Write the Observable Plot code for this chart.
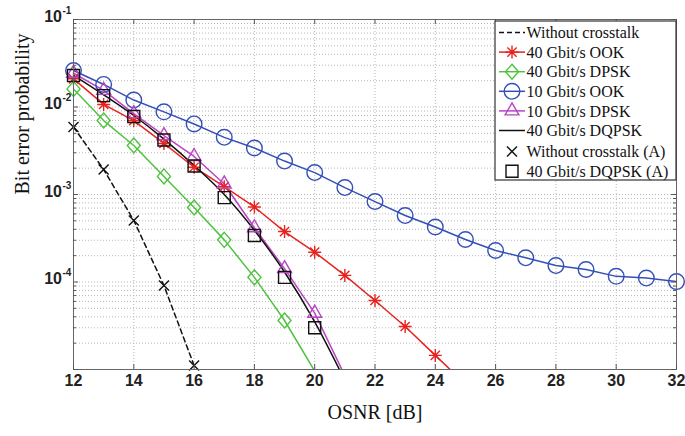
<!DOCTYPE html>
<html><head><meta charset="utf-8">
<script src="https://cdn.jsdelivr.net/npm/d3@7"></script>
<script src="https://cdn.jsdelivr.net/npm/@observablehq/plot@0.6"></script>
<style>body{margin:0;background:#fff}#chart{width:685px;height:436px}</style>
</head><body><div id="chart"></div>
<script>
// ---- data ----
const xTicks = [12, 14, 16, 18, 20, 22, 24, 26, 28, 30, 32];
const yDecades = [1e-5, 1e-4, 1e-3, 1e-2, 1e-1];
const yLabeled = [1e-4, 1e-3, 1e-2, 1e-1];
const yMinor = [2e-5,3e-5,4e-5,5e-5,6e-5,7e-5,8e-5,9e-5, 2e-4,3e-4,4e-4,5e-4,6e-4,7e-4,8e-4,9e-4,
                2e-3,3e-3,4e-3,5e-3,6e-3,7e-3,8e-3,9e-3, 2e-2,3e-2,4e-2,5e-2,6e-2,7e-2,8e-2,9e-2];

const xNoXtalk = [12, 13, 14, 15, 16];
const berNoXtalk = [5.9e-3, 1.93e-3, 5.05e-4, 9.1e-5, 1.11e-5];      // dashed line
const berNoXtalkA = [5.9e-3, 1.93e-3, 5.05e-4, 9.1e-5, 1.11e-5];     // x markers (A)

const x40OOK = [12, 13, 14, 15, 16, 17, 18, 19, 20, 21, 22, 23, 24, 25];
const ber40OOK = [2.1e-2, 1.07e-2, 7.0e-3, 3.83e-3, 2.05e-3, 1.23e-3, 7.2e-4, 3.77e-4, 2.19e-4, 1.19e-4, 6.15e-5, 3.1e-5, 1.45e-5, 6.8e-6];

const x40DPSK = [12, 13, 14, 15, 16, 17, 18, 19, 20];
const ber40DPSK = [1.61e-2, 7.0e-3, 3.63e-3, 1.61e-3, 7.1e-4, 3.03e-4, 1.13e-4, 3.63e-5, 9.6e-6];

const x10OOK = [12, 13, 14, 15, 16, 17, 18, 19, 20, 21, 22, 23, 24, 25, 26, 27, 28, 29, 30, 31, 32];
const ber10OOK = [2.61e-2, 1.81e-2, 1.2e-2, 8.8e-3, 6.4e-3, 4.5e-3, 3.4e-3, 2.41e-3, 1.78e-3, 1.2e-3, 8.3e-4,
                  5.75e-4, 4.25e-4, 3.06e-4, 2.29e-4, 1.89e-4, 1.54e-4, 1.39e-4, 1.16e-4, 1.11e-4, 1.01e-4];

const x10DPSK = [12, 13, 14, 15, 16, 17, 18, 19, 20, 21];
const ber10DPSK = [2.43e-2, 1.55e-2, 8.4e-3, 4.7e-3, 2.72e-3, 1.32e-3, 4.17e-4, 1.42e-4, 4.4e-5, 8.5e-6];

const x40DQPSK = [12, 13, 14, 15, 16, 17, 18, 19, 20, 21];
const ber40DQPSK = [2.3e-2, 1.38e-2, 8.0e-3, 4.3e-3, 2.15e-3, 1.0e-3, 3.9e-4, 1.3e-4, 3.5e-5, 7.5e-6];   // solid line

const x40DQPSKA = [12, 13, 14, 15, 16, 17, 18, 19, 20];
const ber40DQPSKA = [2.29e-2, 1.35e-2, 7.8e-3, 4.2e-3, 2.12e-3, 9.2e-4, 3.4e-4, 1.13e-4, 3.0e-5]; // squares (A)

const legendLabels = ["Without crosstalk", "40 Gbit/s OOK", "40 Gbit/s DPSK", "10 Gbit/s OOK",
  "10 Gbit/s DPSK", "40 Gbit/s DQPSK", "Without crosstalk (A)", "40 Gbit/s DQPSK (A)"];

// ---- symbols (Matlab-like) ----
const R = s => Math.sqrt(s / Math.PI);
const sym = {
  star: {draw(c, s) { const r = R(s), d = r * Math.SQRT1_2; c.moveTo(-r, 0); c.lineTo(r, 0); c.moveTo(0, -r); c.lineTo(0, r); c.moveTo(-d, -d); c.lineTo(d, d); c.moveTo(-d, d); c.lineTo(d, -d); }},
  diamond: {draw(c, s) { const r = R(s), w = r * 0.87; c.moveTo(0, -r); c.lineTo(w, 0); c.lineTo(0, r); c.lineTo(-w, 0); c.closePath(); }},
  circle: {draw(c, s) { const r = R(s); c.moveTo(r, 0); c.arc(0, 0, r, 0, 2 * Math.PI); c.closePath(); }},
  triangle: {draw(c, s) { const r = R(s); c.moveTo(0, -r); c.lineTo(r * 0.866, r * 0.5); c.lineTo(-r * 0.866, r * 0.5); c.closePath(); }},
  square: {draw(c, s) { const r = R(s); c.rect(-r, -r, 2 * r, 2 * r); }},
  times: {draw(c, s) { const r = R(s); c.moveTo(-r, -r); c.lineTo(r, r); c.moveTo(-r, r); c.lineTo(r, -r); }}
};

const C = {red: "#e8221e", green: "#4fc23f", blue: "#3350b8", magenta: "#b845c2", black: "#111"};

const series = [
  {label: legendLabels[0], xs: xNoXtalk, ys: berNoXtalk, color: C.black, line: "dash", symbol: null},
  {label: legendLabels[1], xs: x40OOK, ys: ber40OOK, color: C.red, line: "solid", symbol: "star", r: 6.5},
  {label: legendLabels[2], xs: x40DPSK, ys: ber40DPSK, color: C.green, line: "solid", symbol: "diamond", r: 7.5},
  {label: legendLabels[3], xs: x10OOK, ys: ber10OOK, color: C.blue, line: "solid", symbol: "circle", r: 7.8},
  {label: legendLabels[4], xs: x10DPSK, ys: ber10DPSK, color: C.magenta, line: "solid", symbol: "triangle", r: 8},
  {label: legendLabels[5], xs: x40DQPSK, ys: ber40DQPSK, color: C.black, line: "solid", symbol: null, curve: "monotone-x"},
  {label: legendLabels[6], xs: xNoXtalk, ys: berNoXtalkA, color: C.black, line: null, symbol: "times", r: 5},
  {label: legendLabels[7], xs: x40DQPSKA, ys: ber40DQPSKA, color: C.black, line: null, symbol: "square", r: 6}
];
const rows = s => s.xs.map((x, i) => ({x, y: s.ys[i]}));

const W = 685, H = 436, mT = 19, mR = 9, mB = 67, mL = 73;
const fw = W - mL - mR, fh = H - mT - mB;
const grid = {stroke: "#b8b8b8", strokeDasharray: "1,2", strokeWidth: 1};
const tickCol = "#555";
const sans = "Liberation Sans, Arial, sans-serif", serif = "Liberation Serif, Times New Roman, serif";

// legend geometry (pixels, relative to the plot frame's top-left corner)
const lg = {x: 422, y: 2, w: 181, h: 159, rowY0: 11.5, rowDy: 19.6};
const rowY = i => lg.y + lg.rowY0 + i * lg.rowDy + (i >= 6 ? 1.5 : 0);

const marks = [
  Plot.ruleY(yMinor, {y: d => d, ...grid}),
  Plot.ruleY(yDecades, {y: d => d, ...grid}),
  Plot.ruleX(xTicks, {x: d => d, ...grid})
];
for (const s of series) {
  if (s.line) marks.push(Plot.line(rows(s), {x: "x", y: "y", stroke: s.color, strokeWidth: 1.5,
    strokeDasharray: s.line === "dash" ? "5,3.5" : null, curve: s.curve || "linear", clip: true}));
}
for (const s of series) {
  if (s.symbol) marks.push(Plot.dot(rows(s).filter(d => d.y >= 1e-5), {x: "x", y: "y", symbol: sym[s.symbol], r: s.r,
    stroke: s.color, fill: "none", strokeWidth: 1.4}));
}
marks.push(
  Plot.frame({stroke: "#666", strokeWidth: 1}),
  Plot.tickX(xTicks, {x: d => d, stroke: tickCol, insetTop: fh - 5}),
  Plot.tickX(xTicks, {x: d => d, stroke: tickCol, insetBottom: fh - 5}),
  Plot.tickY(yDecades, {y: d => d, stroke: tickCol, insetRight: fw - 5}),
  Plot.tickY(yDecades, {y: d => d, stroke: tickCol, insetLeft: fw - 5}),
  Plot.tickY(yMinor, {y: d => d, stroke: tickCol, insetRight: fw - 3}),
  Plot.tickY(yMinor, {y: d => d, stroke: tickCol, insetLeft: fw - 3}),
  Plot.text(xTicks, {x: d => d, frameAnchor: "bottom", text: d => String(d), dy: 16.5,
    fontFamily: sans, fontWeight: "bold", fontSize: 16, fill: "#222"}),
  Plot.text(yLabeled, {y: d => d, frameAnchor: "left", text: () => "10", textAnchor: "end", dx: -11.5, dy: -3,
    fontFamily: sans, fontWeight: "bold", fontSize: 16, fill: "#222"}),
  Plot.text(yLabeled, {y: d => d, frameAnchor: "left", text: d => String(Math.round(Math.log10(d))), textAnchor: "start", dx: -11, dy: -9,
    fontFamily: sans, fontWeight: "bold", fontSize: 10, fill: "#222"}),
  Plot.text(["OSNR [dB]"], {frameAnchor: "bottom", dy: 49, text: d => d,
    fontFamily: serif, fontSize: 20, fill: "#111"}),
  Plot.text(["Bit error probability"], {frameAnchor: "left", rotate: -90, dx: -51, text: d => d,
    fontFamily: serif, fontSize: 20, fill: "#111"})
);

const chart = Plot.plot({
  width: W, height: H, marginTop: mT, marginRight: mR, marginBottom: mB, marginLeft: mL,
  x: {domain: [12, 32], axis: null},
  y: {type: "log", domain: [1e-5, 1e-1], axis: null},
  style: {background: "#fff"},
  marks
});

// ---- legend box and samples inside the axes (top-right) ----
const g = d3.select(chart).append("g").attr("transform", `translate(${mL + lg.x},${mT + lg.y})`);
g.append("rect").attr("width", lg.w).attr("height", lg.h).attr("fill", "#fff").attr("stroke", "#333").attr("stroke-width", 1.2);
series.forEach((s, i) => {
  const cy = rowY(i) - lg.y;
  if (s.line) g.append("line").attr("x1", 4).attr("x2", 30).attr("y1", cy).attr("y2", cy)
    .attr("stroke", s.color).attr("stroke-width", 1.5).attr("stroke-dasharray", s.line === "dash" ? "5,3" : null);
  if (s.symbol) g.append("path").attr("transform", `translate(17,${cy})`)
    .attr("d", d3.symbol(sym[s.symbol], Math.PI * s.r * s.r)()).attr("fill", "none")
    .attr("stroke", s.color).attr("stroke-width", 1.4);
});
// legend labels, drawn with Plot text marks on a second pass over the same svg size
const labels = Plot.plot({
  width: W, height: H, marginTop: mT, marginRight: mR, marginBottom: mB, marginLeft: mL,
  x: {domain: [12, 32], axis: null},
  y: {type: "log", domain: [1e-5, 1e-1], axis: null},
  marks: series.map((s, i) => Plot.text([s.label], {frameAnchor: "top-left", lineAnchor: "middle", text: d => d, textAnchor: "start",
    dx: lg.x + 31, dy: rowY(i), fontFamily: serif, fontSize: 16, fill: "#111"}))
});
for (const node of Array.from(labels.childNodes)) if (node.tagName === "g") chart.append(node);

document.getElementById("chart").append(chart);
</script>
</body></html>
